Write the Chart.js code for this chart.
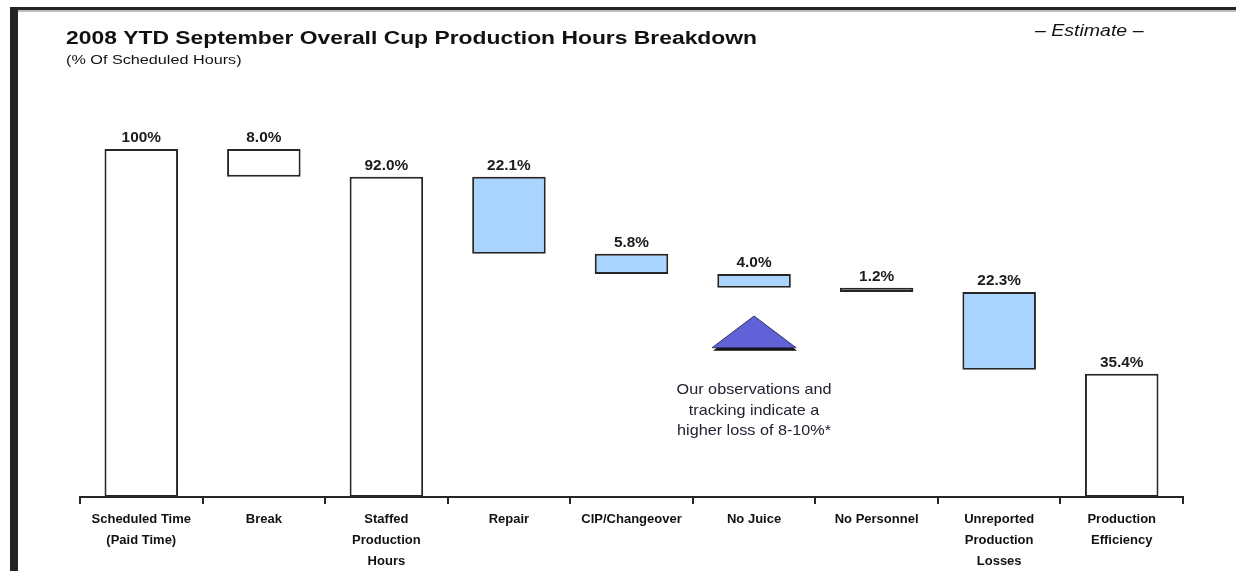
<!DOCTYPE html>
<html>
<head>
<meta charset="utf-8">
<title>2008 YTD September Overall Cup Production Hours Breakdown</title>
<script src="https://cdn.jsdelivr.net/npm/chart.js@4/dist/chart.umd.min.js"></script>
<style>
  html, body { margin: 0; padding: 0; background: #fff; }
  canvas { display: block; }
</style>
</head>
<body>
<canvas id="wf" width="1236" height="571"></canvas>
<script>
// --- data ---
const categories = [
    ['Scheduled Time', '(Paid Time)'],
    'Break',
    ['Staffed', 'Production', 'Hours'],
    'Repair',
    'CIP/Changeover',
    'No Juice',
    'No Personnel',
    ['Unreported', 'Production', 'Losses'],
    ['Production', 'Efficiency']
];
const values = [100, 8.0, 92.0, 22.1, 5.8, 4.0, 1.2, 22.3, 35.4];
// 'total' bars start at zero, 'drop' and 'loss' hang from the running level
const kinds = ['total', 'drop', 'total', 'loss', 'loss', 'loss', 'loss', 'loss', 'total'];
const noteLines = ['Our observations and', 'tracking indicate a', 'higher loss of 8-10%*'];

const FONT = '"Liberation Sans", Arial, Helvetica, sans-serif';
const INK = '#1c1c1c';

// build floating [low, high] pairs for the waterfall
const floats = [];
let level = 0;
values.forEach((v, i) => {
    if (kinds[i] === 'total') {
        floats.push([0, v]);
        level = v;
    } else {
        floats.push([+(level - v).toFixed(1), level]);
        level = +(level - v).toFixed(1);
    }
});
const fills = kinds.map(k => k === 'loss' ? '#a8d4ff' : '#ffffff');
const fmt = v => (v === 100 ? '100%' : v.toFixed(1) + '%');

// draw text squeezed/stretched horizontally like the source slide
function wideText(c, text, x, y, font, sx) {
    c.save();
    c.translate(x, y);
    c.scale(sx, 1);
    c.font = font;
    c.fillText(text, 0, 0);
    c.restore();
}

// --- page frame, title and notes ---
const decorPlugin = {
    id: 'decor',
    beforeDraw(chart) {
        const c = chart.ctx;
        c.save();
        c.fillStyle = '#ffffff';
        c.fillRect(0, 0, chart.width, chart.height);
        // dark frame on top and left
        c.fillStyle = '#bdbdbd';
        c.fillRect(10, 10, chart.width - 10, 2);
        c.fillStyle = '#242424';
        c.fillRect(10, 7, chart.width - 10, 3);
        c.fillRect(10, 7, 8, chart.height - 7);
        c.restore();
    },
    afterDraw(chart) {
        const c = chart.ctx;
        c.save();
        c.fillStyle = '#111';
        c.textBaseline = 'alphabetic';
        c.textAlign = 'left';

        wideText(c, '2008 YTD September Overall Cup Production Hours Breakdown', 66, 44, 'bold 18px ' + FONT, 1.27);
        wideText(c, '(% Of Scheduled Hours)', 66, 64, '12px ' + FONT, 1.35);
        wideText(c, '\u2013 Estimate \u2013', 1035, 36, 'italic 16px ' + FONT, 1.22);

        // triangle marker under "No Juice"
        const xs = chart.scales.x, ys = chart.scales.y;
        const cx = xs.getPixelForValue(5);
        const apex = ys.getPixelForValue(52);
        const base = ys.getPixelForValue(42.9);
        const half = 42;
        c.fillStyle = '#111';
        c.beginPath();
        c.moveTo(cx + 1, apex + 2);
        c.lineTo(cx + half + 1, base + 3);
        c.lineTo(cx - half + 1, base + 3);
        c.closePath();
        c.fill();
        c.fillStyle = '#6262d8';
        c.strokeStyle = '#333366';
        c.lineWidth = 1;
        c.beginPath();
        c.moveTo(cx, apex);
        c.lineTo(cx + half, base);
        c.lineTo(cx - half, base);
        c.closePath();
        c.fill();
        c.stroke();

        // note text
        c.fillStyle = '#222233';
        c.textAlign = 'center';
        c.textBaseline = 'middle';
        noteLines.forEach((line, i) => {
            wideText(c, line, cx, 390 + i * 20.5, '15px ' + FONT, 1.08);
        });
        c.restore();
    }
};

// --- value labels above each bar ---
const valueLabelPlugin = {
    id: 'valueLabels',
    afterDatasetsDraw(chart) {
        const c = chart.ctx;
        const meta = chart.getDatasetMeta(0);
        c.save();
        c.fillStyle = INK;
        c.textAlign = 'center';
        c.textBaseline = 'bottom';
        meta.data.forEach((bar, i) => {
            const top = Math.min(bar.y, bar.base);
            wideText(c, fmt(values[i]), bar.x, top - 4, 'bold 14px ' + FONT, 1.1);
        });
        c.restore();
    }
};

new Chart(document.getElementById('wf'), {
    type: 'bar',
    data: {
        labels: categories,
        datasets: [{
            data: floats,
            backgroundColor: fills,
            borderColor: '#262626',
            borderWidth: 2,
            borderSkipped: false,
            barPercentage: 0.6,
            categoryPercentage: 1.0
        }]
    },
    options: {
        responsive: false,
        animation: false,
        layout: { padding: { left: 80, right: 53, top: 149, bottom: 0 } },
        plugins: {
            legend: { display: false },
            tooltip: { enabled: false },
            title: { display: false }
        },
        scales: {
            y: { display: false, min: 0, max: 100 },
            x: {
                grid: {
                    display: true,
                    drawOnChartArea: false,
                    offset: true,
                    drawTicks: true,
                    tickLength: 7,
                    color: '#262626',
                    lineWidth: 2
                },
                border: { display: true, color: '#262626', width: 2 },
                ticks: {
                    color: '#111',
                    font: { family: FONT, size: 13, weight: 'bold', lineHeight: 1.6 },
                    padding: 5,
                    maxRotation: 0,
                    autoSkip: false
                },
                afterFit(scale) {
                    scale.height = 74;
                }
            }
        }
    },
    plugins: [decorPlugin, valueLabelPlugin]
});
</script>
</body>
</html>
